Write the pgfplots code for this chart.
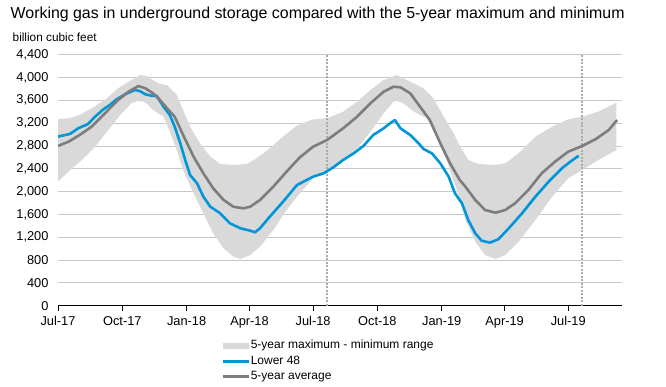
\documentclass[border=0pt]{standalone}
\usepackage{fontspec}
\setmainfont{Liberation Sans}
\usepackage{pgfplots}
\pgfplotsset{compat=1.18}
\definecolor{bandgray}{RGB}{217,217,217}
\definecolor{l48blue}{RGB}{0,150,215}
\definecolor{avggray}{RGB}{125,125,125}
\definecolor{gridgray}{RGB}{200,200,200}
\definecolor{dashgray}{RGB}{170,170,170}
\pgfplotsset{
  lineleg/.style={legend image code/.code={\draw[##1] (0bp,0bp) -- (26bp,0bp);}},
  bandleg/.style={legend image code/.code={\fill[bandgray] (0bp,-3bp) rectangle (26bp,3bp);}},
}
\begin{document}
\begin{tikzpicture}[x=1bp,y=1bp]
\path[use as bounding box] (0,0) rectangle (666,386);
\node[anchor=base west, font=\fontsize{15.9bp}{19bp}\selectfont, inner sep=0] at (10.5,367.2) {Working gas in underground\ storage compared with the 5-year maximum\ and minimum};
\node[anchor=base west, font=\fontsize{11.8bp}{14bp}\selectfont, inner sep=0] at (12.5,345) {billion cubic feet};
\begin{axis}[
  at={(58bp,80.3bp)}, anchor=south west,
  scale only axis, width=564bp, height=251bp,
  xmin=0, xmax=807, ymin=0, ymax=4400,
  axis x line*=bottom, axis y line*=left,
  y axis line style={draw=none},
  ytick distance=400,
  ytick style={draw=none},
  xtick={0,92,184,274,365,457,549,639,730},
  xticklabels={Jul-17,Oct-17,Jan-18,Apr-18,Jul-18,Oct-18,Jan-19,Apr-19,Jul-19},
  xtick align=outside, major tick length=5bp,
  xtick style={black, line width=0.8bp},
  x axis line style={black, line width=0.8bp},
  ymajorgrids, grid style={gridgray, line width=0.8bp},
  tick label style={font=\fontsize{12.8bp}{15bp}\selectfont},
  yticklabel style={xshift=-6bp},
  xticklabel style={yshift=-2bp},
  /pgf/number format/.cd, 1000 sep={,}, assume math mode=true, /pgfplots/.cd,
  legend style={at={(axis description cs:0.289,-0.131)}, anchor=north west, draw=none, fill=none,
    inner sep=0pt, font=\fontsize{12bp}{14bp}\selectfont,
    nodes={inner sep=1bp, text height=9bp, text depth=3bp},
    row sep=1.5bp},
  legend cell align=left,
]
\addplot[fill=bandgray, draw=none, bandleg]
 coordinates {
(0,3273) (15,3285) (31,3343) (48,3460) (67,3606) (86,3811) (101,3927) (117,4044) (127,4027) (135,3960) (145,3890) (156,3869) (170,3694) (179,3431) (189,3138) (203,2847) (218,2612) (232,2484) (251,2467) (270,2484) (284,2584) (303,2759) (322,2963) (342,3160) (365,3267) (385,3285) (408,3401) (428,3576) (447,3781) (466,3956) (485,4044) (504,3927) (523,3811) (537,3636) (552,3313) (566,3022) (575,2800) (587,2554) (602,2484) (626,2467) (640,2496) (659,2671) (683,2963) (707,3138) (730,3267) (750,3313) (773,3401) (799,3559)
(799,2729) (773,2554) (750,2379) (730,2233) (707,1911) (683,1502) (659,1122) (640,889) (626,819) (611,889) (597,1122) (583,1502) (570,2050) (556,2554) (542,2963) (528,3285) (509,3401) (494,3548) (482,3606) (466,3372) (447,3050) (428,2759) (408,2554) (385,2379) (365,2233) (346,1970) (327,1678) (308,1327) (289,1034) (275,889) (261,819) (251,859) (237,1006) (222,1269) (208,1620) (194,1970) (179,2379) (170,2729) (160,3050) (151,3313) (134,3450) (127,3548) (117,3606) (105,3548) (91,3372) (72,3080) (53,2787) (34,2554) (15,2349) (0,2174)
} -- cycle;
\addlegendentry{5-year maximum - minimum range}
\addplot[dashgray, line width=2bp, dash pattern=on 2bp off 1.5bp, forget plot] coordinates {(385,0) (385,4400)};
\addplot[dashgray, line width=2bp, dash pattern=on 2bp off 1.5bp, forget plot] coordinates {(750,0) (750,4400)};
\addplot[l48blue, line width=2.6bp, line join=round, lineleg]
 coordinates {
(0,2965) (17,3010) (29,3110) (43,3185) (53,3313) (65,3443) (74,3518) (84,3618) (96,3706) (110,3781) (117,3763) (125,3706) (134,3680) (141,3680) (151,3489) (160,3343) (167,3138) (175,2847) (182,2554) (189,2291) (199,2146) (208,1911) (218,1735) (232,1620) (246,1444) (261,1357) (275,1315) (282,1287) (289,1357) (303,1560) (322,1823) (342,2116) (365,2262) (380,2320) (394,2426) (408,2554) (423,2671) (437,2800) (451,2992) (466,3110) (475,3197) (482,3255) (490,3110) (504,2992) (516,2847) (523,2747) (535,2671) (547,2496) (559,2262) (568,1970) (578,1795) (587,1502) (597,1269) (606,1140) (618,1105) (630,1164) (645,1357) (664,1620) (683,1911) (702,2174) (721,2409) (733,2524) (745,2629)
};
\addlegendentry{Lower 48}
\addplot[avggray, line width=2.6bp, line join=round, lineleg]
 coordinates {
(0,2800) (15,2875) (31,2992) (48,3138) (67,3372) (86,3606) (101,3752) (115,3851) (125,3811) (136,3723) (146,3606) (156,3460) (167,3313) (179,2992) (194,2612) (208,2321) (222,2058) (237,1853) (251,1735) (265,1707) (275,1735) (289,1853) (308,2086) (327,2349) (346,2601) (365,2787) (385,2905) (408,3110) (428,3313) (447,3548) (466,3752) (480,3839) (490,3828) (504,3723) (518,3489) (532,3255) (547,2847) (561,2496) (575,2200) (583,2086) (597,1853) (611,1678) (626,1630) (640,1678) (654,1795) (673,2028) (692,2321) (711,2524) (730,2700) (750,2800) (769,2917) (788,3080) (800,3255)
};
\addlegendentry{5-year average}
\end{axis}
\end{tikzpicture}
\end{document}
